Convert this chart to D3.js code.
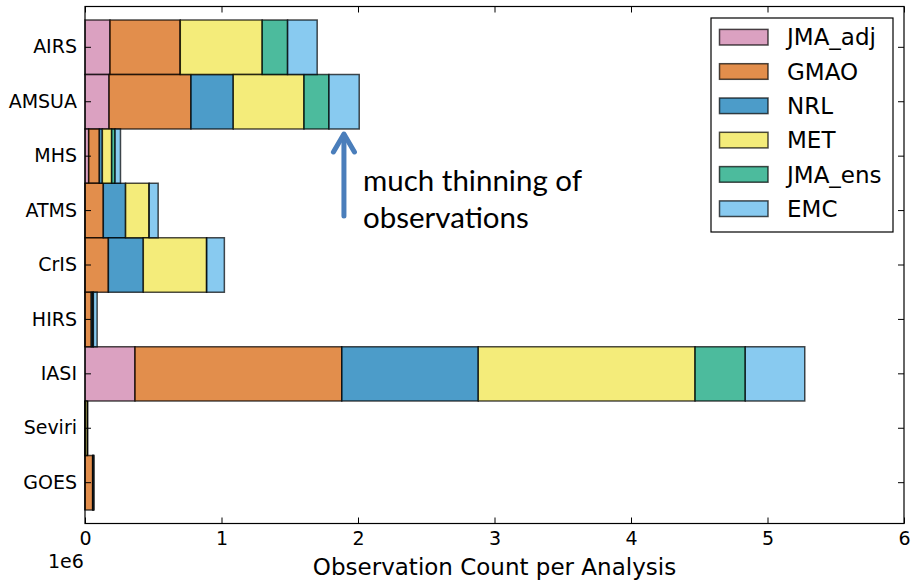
<!DOCTYPE html>
<html>
<head>
<meta charset="utf-8">
<script src="https://cdn.jsdelivr.net/npm/d3@7"></script>
<style>
  html, body { margin: 0; padding: 0; background: #fff; }
  svg { display: block; }
  .axis text { font-family: "DejaVu Sans", sans-serif; fill: #000; }
</style>
</head>
<body>
<svg id="chart" width="912" height="581"></svg>
<script>
// ---- data (observation counts in units of 1e6) ----
const categories = ["AIRS", "AMSUA", "MHS", "ATMS", "CrIS", "HIRS", "IASI", "Seviri", "GOES"];
const seriesNames = ["JMA_adj", "GMAO", "NRL", "MET", "JMA_ens", "EMC"];
const JMA_adj = [0.183, 0.176, 0.027, 0, 0, 0, 0.366, 0, 0];
const GMAO    = [0.515, 0.600, 0.078, 0.134, 0.171, 0.046, 1.515, 0.002, 0.056];
const NRL     = [0, 0.310, 0.022, 0.163, 0.256, 0.012, 1.000, 0, 0.003];
const MET     = [0.600, 0.518, 0.068, 0.173, 0.464, 0.003, 1.588, 0.016, 0.003];
const JMA_ens = [0.186, 0.183, 0.025, 0, 0, 0, 0.368, 0, 0];
const EMC     = [0.217, 0.222, 0.040, 0.066, 0.130, 0.028, 0.436, 0, 0.004];
const xTicks = [0, 1, 2, 3, 4, 5, 6];
const colors = ["#CC79A7", "#D55E00", "#0072B2", "#F0E442", "#009E73", "#56B4E9"];

const seriesValues = [JMA_adj, GMAO, NRL, MET, JMA_ens, EMC];

const svg = d3.select("#chart");
const L = 85, R = 904, T = 6.5, B = 523.5;

const x = d3.scaleLinear().domain([0, 6]).range([L, R]);
const y = d3.scaleBand().domain(categories).range([T, B]).paddingInner(0).paddingOuter(0.25);

// stacked data
const rows = categories.map((c, i) => {
  const o = { cat: c };
  seriesNames.forEach((s, j) => o[s] = seriesValues[j][i]);
  return o;
});
const stacked = d3.stack().keys(seriesNames)(rows);

const gBars = svg.append("g");
stacked.forEach((layer, j) => {
  gBars.append("g")
    .selectAll("path")
    .data(layer)
    .join("path")
    .attr("d", d => {
      const x0 = x(d[0]), x1 = x(d[1]);
      const y0 = y(d.data.cat), y1 = y0 + y.bandwidth();
      return `M${x0},${y0}H${x1}V${y1}H${x0}Z`;
    })
    .attr("fill", colors[j])
    .attr("fill-opacity", 0.7)
    .attr("stroke", "#000")
    .attr("stroke-opacity", 0.7)
    .attr("stroke-width", 1.5);
});

// axes (ticks inward on all sides)
const fontTick = 19;
const ax = svg.append("g").attr("class", "axis").attr("transform", `translate(0,${B})`)
  .call(d3.axisBottom(x).tickValues(xTicks).tickFormat(d3.format("d")).tickSize(-6).tickSizeOuter(0).tickPadding(8));
ax.selectAll("text").style("font-size", fontTick + "px");
svg.append("g").attr("class", "axis").attr("transform", `translate(0,${T})`)
  .call(d3.axisTop(x).tickValues(xTicks).tickFormat("").tickSize(-6).tickSizeOuter(0));
const ay = svg.append("g").attr("class", "axis").attr("transform", `translate(${L},0)`)
  .call(d3.axisLeft(y).tickSize(-6).tickSizeOuter(0).tickPadding(8));
ay.selectAll("text").style("font-size", fontTick + "px");
svg.append("g").attr("class", "axis").attr("transform", `translate(${R},0)`)
  .call(d3.axisRight(y).tickFormat("").tickSize(-6).tickSizeOuter(0));
svg.selectAll(".axis .domain").remove();
svg.selectAll(".axis line").attr("stroke", "#000").attr("stroke-width", 1);

// frame
svg.append("rect").attr("x", L).attr("y", T).attr("width", R - L).attr("height", B - T)
  .attr("fill", "none").attr("stroke", "#000").attr("stroke-width", 1.2);

// axis label and offset text
svg.append("text").attr("x", (L + R) / 2).attr("y", 575).attr("text-anchor", "middle")
  .style("font-family", "DejaVu Sans").style("font-size", "23px").text("Observation Count per Analysis");
svg.append("text").attr("x", 48).attr("y", 568)
  .style("font-family", "DejaVu Sans").style("font-size", fontTick + "px").text("1e6");

// legend
const lg = svg.append("g");
lg.append("rect").attr("x", 711).attr("y", 18).attr("width", 182).attr("height", 214)
  .attr("fill", "#fff").attr("stroke", "#000").attr("stroke-width", 1.2);
seriesNames.forEach((s, j) => {
  const cy = 37.2 + j * 34.3;
  lg.append("rect").attr("x", 719.5).attr("y", cy - 7.8).attr("width", 48.5).attr("height", 15.6)
    .attr("fill", colors[j]).attr("fill-opacity", 0.7)
    .attr("stroke", "#000").attr("stroke-opacity", 0.7).attr("stroke-width", 1.5);
  lg.append("text").attr("x", 787).attr("y", cy).attr("dy", "0.36em")
    .style("font-family", "DejaVu Sans").style("font-size", "23px").text(s);
});

// annotation
const axX = x(1.897);
const arrowColor = "#4A7EBB";
svg.append("line").attr("x1", axX).attr("x2", axX).attr("y1", 216).attr("y2", 135)
  .attr("stroke", arrowColor).attr("stroke-width", 5).attr("stroke-linecap", "round");
svg.append("path").attr("d", `M${axX - 10.5},152 L${axX},134 L${axX + 10.5},152`)
  .attr("fill", "none").attr("stroke", arrowColor).attr("stroke-width", 5)
  .attr("stroke-linecap", "round").attr("stroke-linejoin", "round");
const ann = svg.append("text").style("font-family", "Lato").style("font-size", "29.5px").attr("fill", "#000");
ann.append("tspan").attr("x", 363).attr("y", 191).text("much thinning of");
ann.append("tspan").attr("x", 363).attr("y", 228).text("observations");
</script>
</body>
</html>
